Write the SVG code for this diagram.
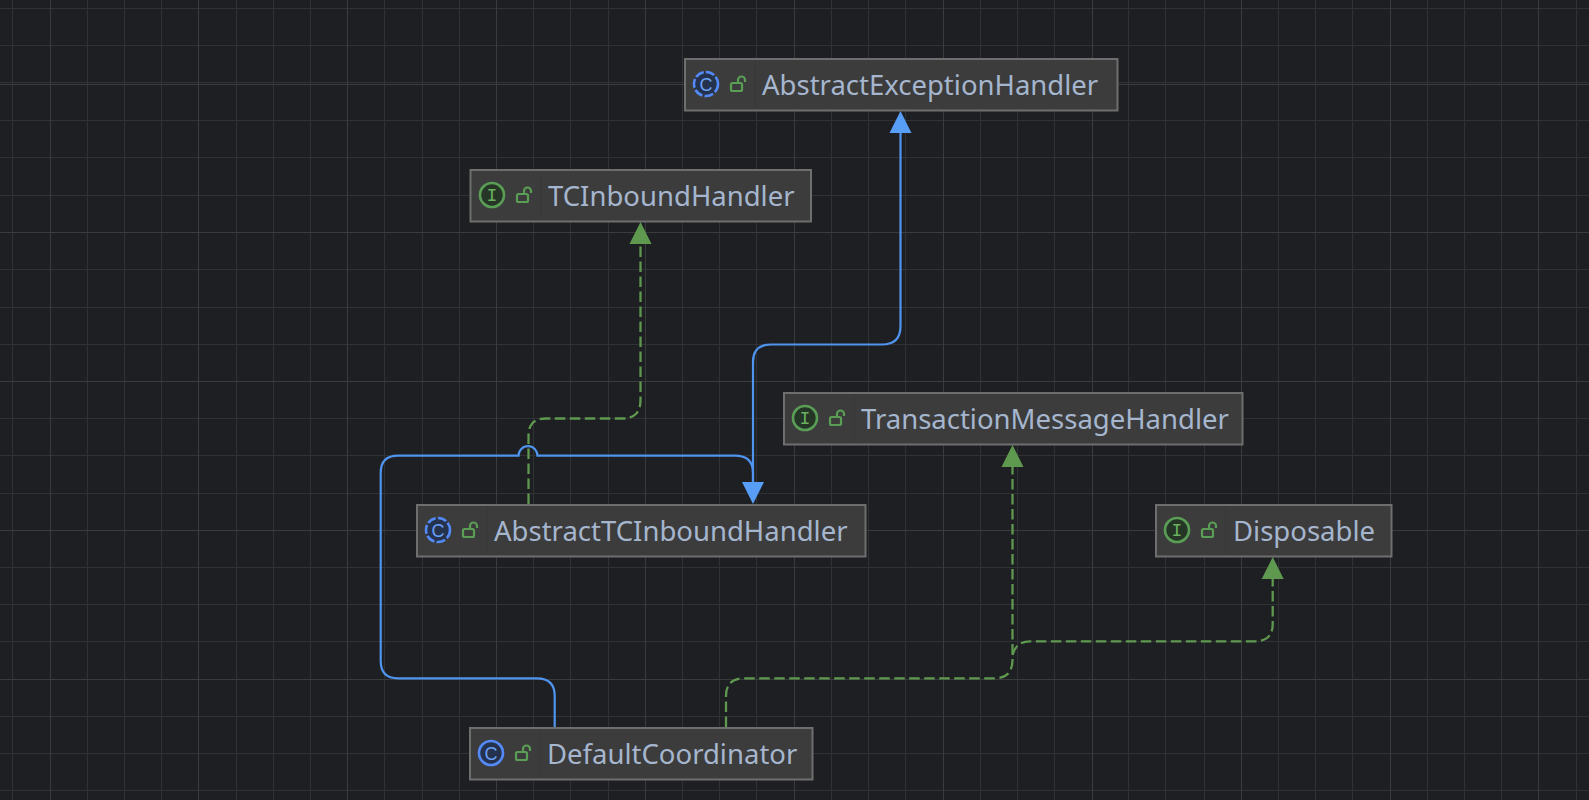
<svg xmlns="http://www.w3.org/2000/svg" width="1589" height="800" viewBox="0 0 1589 800">
<style>
.g{stroke:#303235;stroke-width:1;fill:none;shape-rendering:crispEdges}
.gm{stroke:#3a3b3d;stroke-width:1;fill:none;shape-rendering:crispEdges}
.n{fill:#3c3c3c;stroke:#6e6e6e;stroke-width:2}
.s{stroke:#38393b;stroke-width:1}
.t{font-family:"Noto Sans","Open Sans",sans-serif;font-size:27.5px;fill:#a5b6ce}
.ic{font-family:"Liberation Sans",sans-serif;font-size:18px;text-anchor:middle}
.ii{font-family:"Liberation Mono",monospace;font-size:18px;text-anchor:middle}
.cb{fill:#25324d;stroke:#548af7;stroke-width:2.6}
.cd{stroke-dasharray:9 2.2}
.ci{fill:#253627;stroke:#5a9e55;stroke-width:2.6}
.lk{fill:none;stroke:#5a9e55;stroke-width:2.2}
.bl{fill:none;stroke:#4f94ee;stroke-width:2.2}
.gr{fill:none;stroke:#5f9950;stroke-width:2.3;stroke-dasharray:10.5 4.5}
.ab{fill:#589df6}
.ag{fill:#5f9950}
</style>
<defs>
<g id="lock"><rect x="-7" y="-2" width="11" height="8" rx="1.5" class="lk"/><path d="M0-2V-5a3.5 3.5 0 0 1 7 0V-3" class="lk"/></g>
</defs>
<rect width="1589" height="800" fill="#1e1f22"/>
<path class="g" d="M12.5 0V800M87.5 0V800M124.5 0V800M161.5 0V800M236.5 0V800M273.5 0V800M310.5 0V800M384.5 0V800M422.5 0V800M459.5 0V800M533.5 0V800M570.5 0V800M608.5 0V800M682.5 0V800M719.5 0V800M756.5 0V800M831.5 0V800M868.5 0V800M905.5 0V800M980.5 0V800M1017.5 0V800M1054.5 0V800M1128.5 0V800M1165.5 0V800M1204.5 0V800M1278.5 0V800M1315.5 0V800M1352.5 0V800M1427.5 0V800M1464.5 0V800M1501.5 0V800M1576.5 0V800M0 8.5H1589M0 45.5H1589M0 82.5H1589M0 120.5H1589M0 157.5H1589M0 195.5H1589M0 269.5H1589M0 307.5H1589M0 344.5H1589M0 418.5H1589M0 455.5H1589M0 493.5H1589M0 567.5H1589M0 604.5H1589M0 641.5H1589M0 716.5H1589M0 753.5H1589M0 790.5H1589"/>
<path class="gm" d="M50.5 0V800M198.5 0V800M347.5 0V800M496.5 0V800M645.5 0V800M794.5 0V800M943.5 0V800M1092.5 0V800M1241.5 0V800M1390.5 0V800M1538.5 0V800M0 84.5H1589M0 232.5H1589M0 381.5H1589M0 530.5H1589M0 679.5H1589"/>
<g id="connectors">
<path class="bl" d="M554.7 727V696Q554.7 678.3 537 678.3H398Q380.7 678.3 380.7 661V473Q380.7 455.7 398 455.7H518.5A9.5 9.5 0 0 1 537.5 455.7H735Q753 455.7 753 473V484"/>
<path class="bl" d="M753 484V362Q753 344.5 771 344.5H882Q900.5 344.5 900.5 326V128"/>
<path class="ab" d="M753 504L742 482H764Z"/>
<path class="ab" d="M900.5 111L889.5 133H911.5Z"/>
<path class="gr" d="M528.5 504V436Q528.5 418.5 546 418.5H622Q640.5 418.5 640.5 400V241"/>
<path class="ag" d="M640.5 222L629.5 244H651.5Z"/>
<path class="gr" d="M726 727V696Q726 678.3 744 678.3H994Q1012.5 678.3 1012.5 660V463"/>
<path class="ag" d="M1012.5 445L1001.5 467H1023.5Z"/>
<path class="gr" d="M1012.5 655Q1016 641.3 1030 641.3H1255Q1272.7 641.3 1272.7 624V577"/>
<path class="ag" d="M1272.7 557L1261.7 579H1283.7Z"/>
</g>
<g id="AbstractExceptionHandler"><rect class="n" x="685" y="59" width="432.5" height="51.5"/><path class="s" d="M755 60V109"/><circle class="cb cd" cx="706" cy="84" r="12"/><text class="ic" x="706" y="90.5" fill="#6aa0f8">C</text><use href="#lock" x="738" y="85"/><text class="t" x="762" y="95">AbstractExceptionHandler</text></g>
<g id="TCInboundHandler"><rect class="n" x="470.5" y="170" width="340.5" height="51.5"/><path class="s" d="M541 171V220"/><circle class="ci" cx="492" cy="195" r="12"/><text class="ii" x="492" y="201" fill="#6ab060">I</text><use href="#lock" x="524" y="196"/><text class="t" x="548" y="206">TCInboundHandler</text></g>
<g id="TransactionMessageHandler"><rect class="n" x="784" y="393" width="458.5" height="51.5"/><path class="s" d="M854 394V443"/><circle class="ci" cx="805" cy="418" r="12"/><text class="ii" x="805" y="424" fill="#6ab060">I</text><use href="#lock" x="837" y="419"/><text class="t" x="861" y="429">TransactionMessageHandler</text></g>
<g id="AbstractTCInboundHandler"><rect class="n" x="417" y="505" width="448.5" height="51.5"/><path class="s" d="M487 506V555"/><circle class="cb cd" cx="438" cy="530" r="12"/><text class="ic" x="438" y="536.5" fill="#6aa0f8">C</text><use href="#lock" x="470" y="531"/><text class="t" x="494" y="541">AbstractTCInboundHandler</text></g>
<g id="Disposable"><rect class="n" x="1156" y="505" width="235.5" height="51.5"/><path class="s" d="M1226 506V555"/><circle class="ci" cx="1177" cy="530" r="12"/><text class="ii" x="1177" y="536" fill="#6ab060">I</text><use href="#lock" x="1209" y="531"/><text class="t" x="1233" y="541">Disposable</text></g>
<g id="DefaultCoordinator"><rect class="n" x="470" y="728" width="342.5" height="51.5"/><path class="s" d="M540 729V778"/><circle class="cb" cx="491" cy="753" r="12"/><text class="ic" x="491" y="759.5" fill="#6aa0f8">C</text><use href="#lock" x="523" y="754"/><text class="t" x="547" y="764">DefaultCoordinator</text></g>
</svg>
